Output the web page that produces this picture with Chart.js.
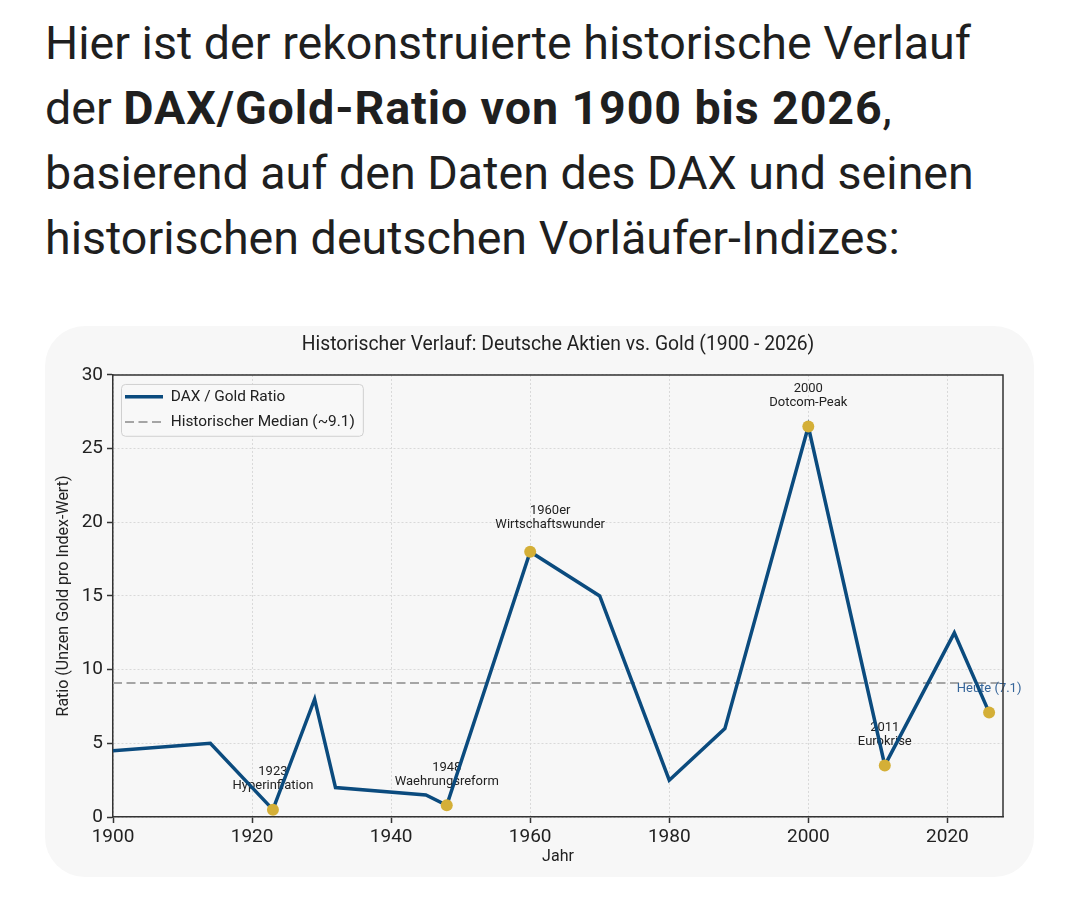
<!DOCTYPE html>
<html lang="de">
<head>
<meta charset="utf-8">
<title>DAX/Gold-Ratio 1900 - 2026</title>
<script src="https://cdn.jsdelivr.net/npm/chart.js@4.4.1/dist/chart.umd.min.js"></script>
<style>
  html, body { margin: 0; padding: 0; background: #fff; }
  body {
    width: 1080px; height: 909px; position: relative; overflow: hidden;
    font-family: Roboto, "Noto Sans", sans-serif; color: #1f1f1f;
  }
  .intro { position: absolute; left: 45px; top: 11px; margin: 0; font-size: 46.6px; line-height: 65px; font-weight: 400; }
  .intro b { font-weight: 700; letter-spacing: 0.9px; }
  .card { position: absolute; left: 45px; top: 326px; width: 989px; height: 551px; background: #f7f7f7; border-radius: 40px; }
  .chart-box { position: absolute; left: 40px; top: 326px; width: 1036px; height: 552px; }
</style>
</head>
<body>
<p class="intro">Hier ist der rekonstruierte historische Verlauf<br>der <b>DAX/Gold-Ratio von 1900 bis 2026</b>,<br>basierend auf den Daten des DAX und seinen<br>historischen deutschen Vorläufer-Indizes:</p>
<div class="card"></div>
<div class="chart-box"><canvas id="ratioChart"></canvas></div>
<script>
// ---------- Data ----------
const YEARS = [1900, 1914, 1923, 1929, 1932, 1945, 1948, 1960, 1970, 1980, 1988, 2000, 2011, 2021, 2026];
const RATIO = [4.5, 5.0, 0.5, 8.0, 2.0, 1.5, 0.8, 18.0, 15.0, 2.5, 6.0, 26.5, 3.5, 12.5, 7.1];
const MEDIAN = 9.1;
const X_MIN = 1900;
const X_MAX = 2028;
const X_TICKS = [1900, 1920, 1940, 1960, 1980, 2000, 2020];
const Y_TICKS = [0, 5, 10, 15, 20, 25, 30];
const EVENT_YEARS = [1923, 1948, 1960, 2000, 2011, 2026];
const EVENT_LABELS = [
  ["1923", "Hyperinflation"],
  ["1948", "Waehrungsreform"],
  ["1960er", "Wirtschaftswunder"],
  ["2000", "Dotcom-Peak"],
  ["2011", "Eurokrise"],
  ["Heute (7.1)"],
];

const NAVY = "#0b4b7e";
const GOLD = "#d4af37";
const TODAY_COLOR = "#35659a";
const INK = "#222";
const FONT = "Roboto, 'Noto Sans', sans-serif";

Chart.defaults.font.family = FONT;
Chart.defaults.color = INK;

const ratioOf = (year) => RATIO[YEARS.indexOf(year)];

// the 1960er note sits a bit right of its point in the original
const NOTE_NUDGE = { "1960er": {dx: 20, dy: -3.5} };

const framePlugin = {
  id: "frame",
  afterLayout(chart) {
    // keep the legend inside the plot, top-left
    const {legend, chartArea} = chart;
    legend.left = chartArea.left + 2;
    legend.top = chartArea.top + 4;
    legend.bottom = chartArea.bottom;
    legend.height = chartArea.bottom - legend.top;
  },
  beforeDatasetsDraw(chart) {
    const {ctx, legend} = chart;
    const boxes = legend.legendHitBoxes;
    if (!boxes || !boxes.length) return;
    const left = Math.min(...boxes.map(b => b.left)) - 4;
    const top = Math.min(...boxes.map(b => b.top)) - 5;
    const right = Math.max(...boxes.map(b => b.left + b.width)) + 8;
    const bottom = Math.max(...boxes.map(b => b.top + b.height)) + 6;
    ctx.save();
    ctx.beginPath();
    ctx.roundRect(left + 0.5, top + 0.5, right - left, bottom - top, 4);
    ctx.fillStyle = "rgba(248,248,248,0.95)";
    ctx.fill();
    ctx.lineWidth = 1;
    ctx.strokeStyle = "#d0d0d0";
    ctx.stroke();
    ctx.restore();
    legend.draw();
  },
  afterDatasetDraw(chart, args) {
    // event notes sit above the median line but under the ratio line
    if (args.index !== 1) return;
    const {ctx, scales: {x, y}} = chart;
    ctx.save();
    ctx.textAlign = "center";
    ctx.textBaseline = "middle";
    ctx.font = `13px ${FONT}`;
    EVENT_YEARS.forEach((year, i) => {
      const lines = EVENT_LABELS[i];
      const nudge = NOTE_NUDGE[lines[0]] || {dx: 0, dy: 0};
      const px = x.getPixelForValue(year) + nudge.dx;
      const py = y.getPixelForValue(ratioOf(year)) + nudge.dy;
      ctx.fillStyle = i === EVENT_YEARS.length - 1 ? TODAY_COLOR : INK;
      lines.forEach((line, j) => {
        ctx.fillText(line, px, py - 23.5 - (lines.length - 1 - j) * 14);
      });
    });
    ctx.restore();
  },
  afterDraw(chart) {
    const {ctx, chartArea: a} = chart;
    ctx.save();
    ctx.strokeStyle = "#333";
    ctx.lineWidth = 1.5;
    ctx.beginPath();
    ctx.moveTo(a.left, a.top);
    ctx.lineTo(a.right, a.top);
    ctx.lineTo(a.right, a.bottom);
    ctx.stroke();
    ctx.restore();
  },
};

const ctx = document.getElementById("ratioChart").getContext("2d");
const ratioChart = new Chart(ctx, {
  type: "line",
  data: {
    datasets: [
      {
        label: "DAX / Gold Ratio",
        data: YEARS.map((year, i) => ({x: year, y: RATIO[i]})),
        borderColor: NAVY,
        backgroundColor: NAVY,
        borderWidth: 3.5,
        pointRadius: 0,
        tension: 0,
        order: 1,
      },
      {
        label: "Historischer Median (~9.1)",
        data: [{x: X_MIN, y: MEDIAN}, {x: X_MAX, y: MEDIAN}],
        borderColor: "#a5a5a5",
        backgroundColor: "#a5a5a5",
        borderWidth: 2,
        borderDash: [9, 4.5],
        pointRadius: 0,
        order: 2,
      },
      {
        label: "Ereignisse",
        data: EVENT_YEARS.map(year => ({x: year, y: ratioOf(year)})),
        showLine: false,
        pointRadius: 6,
        pointHoverRadius: 6,
        pointBackgroundColor: GOLD,
        pointBorderWidth: 0,
        order: 0,
      },
    ],
  },
  options: {
    responsive: true,
    maintainAspectRatio: false,
    animation: false,
    scales: {
      x: {
        type: "linear",
        min: X_MIN,
        max: X_MAX,
        afterBuildTicks: (scale) => { scale.ticks = X_TICKS.map(v => ({value: v})); },
        afterFit: (scale) => { scale.height = 61; scale.paddingRight = 73; },
        ticks: { font: { size: 19 }, color: INK, padding: 3, callback: (v) => String(v) },
        grid: { color: "#d9d9d9", lineWidth: 1, tickColor: "#333", tickLength: 6, tickWidth: 1.5 },
        border: { color: "#333", width: 1.5, dash: [2, 2] },
        title: { display: true, text: "Jahr", font: { size: 16 }, color: INK, padding: { top: 4, bottom: 11 } },
      },
      y: {
        min: 0,
        max: 30,
        afterBuildTicks: (scale) => { scale.ticks = Y_TICKS.map(v => ({value: v})); },
        afterFit: (scale) => { scale.width = 73; },
        ticks: { font: { size: 19 }, color: INK, padding: 4 },
        grid: { color: "#d9d9d9", lineWidth: 1, tickColor: "#333", tickLength: 6, tickWidth: 1.5 },
        border: { color: "#333", width: 1.5, dash: [2, 2] },
        title: { display: true, text: "Ratio (Unzen Gold pro Index-Wert)", font: { size: 16 }, color: INK, padding: { top: 14.4, bottom: 0 } },
      },
    },
    plugins: {
      title: {
        display: true,
        text: "Historischer Verlauf: Deutsche Aktien vs. Gold (1900 - 2026)",
        font: { size: 19.3, weight: "400" },
        color: INK,
        padding: { top: 7.4, bottom: 18.4 },
      },
      legend: {
        position: "chartArea",
        align: "start",
        labels: {
          usePointStyle: true,
          pointStyle: "line",
          pointStyleWidth: 38,
          padding: 10,
          font: { size: 15.4 },
          color: INK,
          generateLabels(chart) {
            const items = Chart.defaults.plugins.legend.labels.generateLabels(chart);
            return items
              .filter(item => item.datasetIndex !== 2)
              .map(item => {
                const ds = chart.data.datasets[item.datasetIndex];
                return {...item, lineWidth: ds.borderWidth, lineDash: ds.borderDash || [], strokeStyle: ds.borderColor};
              });
          },
        },
      },
      tooltip: { enabled: false },
    },
  },
  plugins: [framePlugin],
});
</script>
</body>
</html>
